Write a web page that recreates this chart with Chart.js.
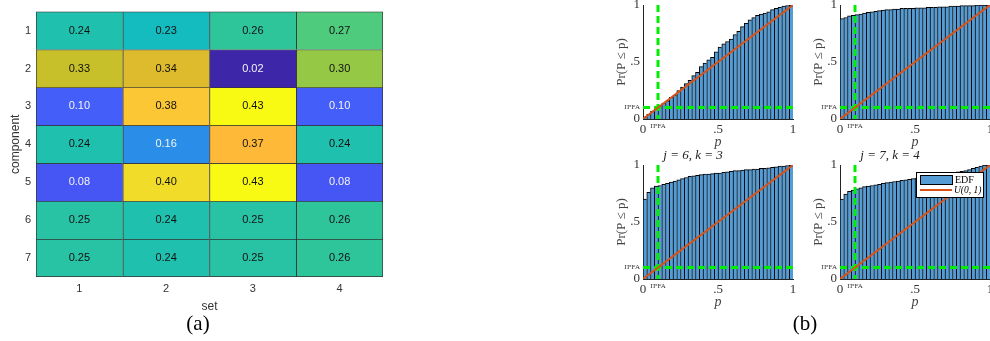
<!DOCTYPE html>
<html lang="en">
<head>
<meta charset="UTF-8">
<title>Detection rate heatmap and EDF panels</title>
<script src="https://cdn.jsdelivr.net/npm/chart.js"></script>
<style>
  html, body { margin: 0; padding: 0; background: #fff; }
  body { width: 990px; height: 341px; position: relative; overflow: hidden; }
  canvas { position: absolute; }
  .tag { position: absolute; width: 60px; text-align: center; line-height: 24px;
         font: 21px "Liberation Serif", "Times New Roman", serif; color: #000; }
</style>
</head>
<body>
<canvas id="heat" style="left:0;top:0" width="400" height="317"></canvas>
<canvas id="pA" style="left:593px;top:-24px" width="210" height="177"></canvas>
<canvas id="pB" style="left:790px;top:-24px" width="210" height="177"></canvas>
<canvas id="pC" style="left:593px;top:140px" width="210" height="173"></canvas>
<canvas id="pD" style="left:790px;top:140px" width="210" height="173"></canvas>
<div class="tag" style="left:168px;top:311px">(a)</div>
<div class="tag" style="left:775px;top:311px">(b)</div>

<script>
// ---- (a) heatmap data ----
const sets = ['1', '2', '3', '4'];
const components = [1, 2, 3, 4, 5, 6, 7];
const comp1 = [0.24, 0.23, 0.26, 0.27];
const comp2 = [0.33, 0.34, 0.02, 0.30];
const comp3 = [0.10, 0.38, 0.43, 0.10];
const comp4 = [0.24, 0.16, 0.37, 0.24];
const comp5 = [0.08, 0.40, 0.43, 0.08];
const comp6 = [0.25, 0.24, 0.25, 0.26];
const comp7 = [0.25, 0.24, 0.25, 0.26];
const cellValues = [comp1, comp2, comp3, comp4, comp5, comp6, comp7];

// ---- (b) EDF panels data (40 bins on [0,1]) ----
const pfa = 0.1;
const binCenters = Array.from({length: 40}, (_, i) => (i + 0.5) / 40);
const edfA = [0.02,0.04,0.07,0.10,0.12,0.14,0.16,0.19,0.21,0.25,0.28,0.31,0.34,0.38,0.41,0.46,0.49,0.52,0.54,0.59,
              0.63,0.66,0.68,0.70,0.74,0.77,0.81,0.84,0.87,0.89,0.91,0.92,0.93,0.94,0.96,0.97,0.98,0.99,0.995,1.0];
const edfB = [0.88,0.89,0.905,0.91,0.915,0.92,0.93,0.935,0.94,0.945,0.95,0.955,0.96,0.96,0.965,0.965,0.97,0.97,0.97,0.97,
              0.975,0.975,0.975,0.98,0.98,0.98,0.985,0.985,0.985,0.99,0.99,0.99,0.995,0.995,0.995,0.995,1.0,1.0,1.0,1.0];
const edfC = [0.70,0.76,0.80,0.815,0.82,0.83,0.84,0.85,0.86,0.87,0.88,0.89,0.90,0.905,0.91,0.915,0.92,0.92,0.925,0.93,
              0.93,0.935,0.94,0.945,0.95,0.95,0.955,0.96,0.96,0.965,0.965,0.97,0.97,0.975,0.98,0.985,0.99,0.99,0.995,1.0];
const edfD = [0.70,0.745,0.77,0.78,0.79,0.80,0.81,0.815,0.82,0.825,0.83,0.84,0.845,0.85,0.855,0.86,0.865,0.87,0.875,0.88,
              0.885,0.89,0.895,0.90,0.905,0.91,0.915,0.92,0.925,0.93,0.935,0.94,0.945,0.95,0.96,0.97,0.98,0.99,1.0,1.0];

// parula-like colormap stops
const stops = [[0,62,38,168],[0.15,69,87,247],[0.2,68,95,250],[0.34,42,142,232],[0.51,20,188,192],
  [0.54,33,192,172],[0.59,48,198,152],[0.61,78,203,125],[0.68,147,200,70],[0.76,202,192,42],
  [0.78,222,187,45],[0.85,253,183,55],[0.88,252,200,52],[0.93,240,222,40],[1,249,250,20]];
const allVals = cellValues.flat();
const vmin = Math.min(...allVals), vmax = Math.max(...allVals);
function cmap(v) {
  const t = (v - vmin) / (vmax - vmin);
  for (let i = 1; i < stops.length; i++) {
    if (t <= stops[i][0]) {
      const a = stops[i - 1], b = stops[i], f = (t - a[0]) / (b[0] - a[0]);
      const c = [1, 2, 3].map(k => Math.round(a[k] + (b[k] - a[k]) * f));
      return `rgb(${c[0]},${c[1]},${c[2]})`;
    }
  }
  return 'rgb(249,250,20)';
}

const sans = '"Liberation Sans", Arial, sans-serif';
const serif = '"Liberation Serif", "Times New Roman", serif';

const cellText = {
  id: 'cellText',
  afterDatasetsDraw(chart) {
    const ctx = chart.ctx;
    ctx.save();
    ctx.font = '11px ' + sans;
    ctx.textAlign = 'center';
    ctx.textBaseline = 'middle';
    chart.data.datasets.forEach((ds, r) => {
      chart.getDatasetMeta(r).data.forEach((el, c) => {
        const v = cellValues[r][c];
        ctx.fillStyle = v < 0.2 ? '#f4f4f4' : '#111';
        ctx.fillText(v.toFixed(2), el.x, (el.y + el.base) / 2);
      });
    });
    ctx.restore();
  }
};

new Chart(document.getElementById('heat'), {
  type: 'bar',
  data: {
    labels: sets,
    datasets: components.map((r, ri) => ({
      data: sets.map(() => [r - 0.5, r + 0.5]),
      backgroundColor: cellValues[ri].map(cmap),
      borderColor: '#333',
      borderSkipped: false,
      borderWidth: ctx => ({top: 1, left: 1, right: ctx.dataIndex === sets.length - 1 ? 1 : 0,
                            bottom: ri === components.length - 1 ? 1 : 0}),
      barPercentage: 1, categoryPercentage: 1, grouped: false
    }))
  },
  options: {
    responsive: false, animation: false,
    layout: { padding: { top: 4, right: 17, left: 0, bottom: 0 } },
    plugins: { legend: { display: false }, tooltip: { enabled: false } },
    scales: {
      x: {
        grid: { display: false, drawTicks: false }, border: { display: false },
        ticks: { color: '#333', font: { family: sans, size: 11 }, padding: 5 },
        title: { display: true, text: 'set', color: '#333', font: { family: sans, size: 12 }, padding: { top: 0, bottom: 3 } },
        afterFit: s => { s.height = 40; }
      },
      y: {
        type: 'linear', reverse: true, min: 0.5, max: 7.5,
        grid: { display: false, drawTicks: false }, border: { display: false },
        afterBuildTicks: s => { s.ticks = components.map(v => ({ value: v })); },
        ticks: { color: '#333', font: { family: sans, size: 11 }, padding: 5 },
        title: { display: true, text: 'component', color: '#333', font: { family: sans, size: 12 }, padding: { top: 8, bottom: 0 } },
        afterFit: s => { s.width = 36; }
      }
    }
  },
  plugins: [cellText]
});

// ---- panels ----
const pfaLabel = 'Π\u1D45FA';
const tickFont = c => (c.tick && c.tick.value === pfa) ? { family: serif, size: 7 } : { family: serif, size: 13 };
const tickLabel = v => v === 0 ? '0' : v === 1 ? '1' : v === 0.5 ? '.5' : v === pfa ? pfaLabel : '';

const insideLegend = {
  id: 'insideLegend',
  afterDatasetsDraw(chart, args, opts) {
    if (!opts.show) return;
    const { ctx, chartArea: a } = chart;
    const bar = chart.data.datasets[0], uni = chart.data.datasets[1];
    const x = Math.round(a.left + 76), y = Math.round(a.top + 7), w = 67, h = 25;
    ctx.save();
    ctx.fillStyle = '#fff';
    ctx.fillRect(x, y, w, h);
    ctx.strokeStyle = '#000'; ctx.lineWidth = 1;
    ctx.strokeRect(x + 0.5, y + 0.5, w, h);
    ctx.fillStyle = bar.backgroundColor;
    ctx.fillRect(x + 4, y + 3, 32, 9);
    ctx.strokeRect(x + 4.5, y + 3.5, 32, 9);
    ctx.strokeStyle = uni.borderColor; ctx.lineWidth = 2;
    ctx.beginPath(); ctx.moveTo(x + 4, y + 18); ctx.lineTo(x + 36, y + 18); ctx.stroke();
    ctx.fillStyle = '#000'; ctx.textBaseline = 'middle'; ctx.textAlign = 'left';
    ctx.font = '10px ' + serif;
    ctx.fillText(bar.label, x + 39, y + 8);
    ctx.font = 'italic 9.5px ' + serif;
    ctx.fillText(uni.label, x + 38, y + 18);
    ctx.restore();
  }
};

function makePanel(id, title, edf, showLegend, extraTop) {
  new Chart(document.getElementById(id), {
    type: 'bar',
    data: {
      datasets: [
        { label: 'EDF', data: binCenters.map((p, i) => ({ x: p, y: edf[i] })),
          backgroundColor: 'rgb(86,156,212)', borderColor: '#000', borderSkipped: false,
          borderWidth: { left: 1, top: 1, right: 0, bottom: 0 },
          barPercentage: 1, categoryPercentage: 1, order: 3 },
        { type: 'line', label: 'U(0, 1)', data: [{ x: 0, y: 0 }, { x: 1, y: 1 }],
          borderColor: '#d95319', borderWidth: 2, pointRadius: 0, order: 1 },
        { type: 'line', label: 'pfa-h', data: [{ x: 0, y: pfa }, { x: 1, y: pfa }],
          borderColor: '#00ee00', borderWidth: 3, borderDash: [7, 4], pointRadius: 0, order: 2 },
        { type: 'line', label: 'pfa-v', data: [{ x: pfa, y: 1 }, { x: pfa, y: 0 }],
          borderColor: '#00ee00', borderWidth: 3, borderDash: [7, 4], pointRadius: 0, order: 2 }
      ]
    },
    options: {
      responsive: false, animation: false,
      layout: { padding: { top: 7.4 + extraTop, right: 10, left: 0, bottom: 0 } },
      plugins: {
        legend: { display: false }, tooltip: { enabled: false },
        title: { display: true, text: title, color: '#222', font: { family: serif, size: 13, style: 'italic', weight: 'normal' },
                 padding: { top: 0, bottom: 2 + extraTop } },
        insideLegend: { show: showLegend }
      },
      scales: {
        x: {
          type: 'linear', min: 0, max: 1, offset: false,
          grid: { display: false, drawTicks: false }, border: { display: true, color: '#222' },
          afterBuildTicks: s => { s.ticks = [0, pfa, 0.5, 1].map(v => ({ value: v })); },
          ticks: { autoSkip: false, maxRotation: 0, color: '#333', padding: 3, font: tickFont, callback: tickLabel },
          title: { display: true, text: 'p', color: '#444', font: { family: serif, size: 14, style: 'italic' }, padding: { top: 0, bottom: 2 } },
          afterFit: s => { s.height = 34; }
        },
        y: {
          min: 0, max: 1,
          grid: { display: false, drawTicks: false }, border: { display: true, color: '#222' },
          afterBuildTicks: s => { s.ticks = [0, pfa, 0.5, 1].map(v => ({ value: v })); },
          ticks: { autoSkip: false, color: '#333', padding: 3, font: tickFont, callback: tickLabel },
          title: { display: true, text: 'Pr(P ≤ p)', color: '#444', font: { family: serif, size: 13 }, padding: { top: 21, bottom: 0 } },
          afterFit: s => { s.width = 50; }
        }
      }
    },
    plugins: [insideLegend]
  });
}

makePanel('pA', 'j = 1, k = 1', edfA, false, 2);
makePanel('pB', 'j = 3, k = 2', edfB, false, 2);
makePanel('pC', 'j = 6, k = 3', edfC, false, 0);
makePanel('pD', 'j = 7, k = 4', edfD, true, 0);
</script>
</body>
</html>
